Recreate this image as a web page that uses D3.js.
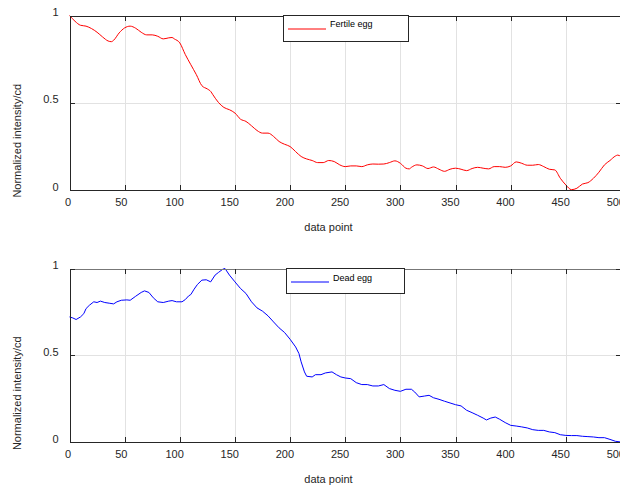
<!DOCTYPE html>
<html>
<head>
<meta charset="utf-8">
<script src="https://cdn.jsdelivr.net/npm/d3@7"></script>
<style>
  html, body { margin: 0; padding: 0; background: #fff; }
  svg { display: block; font-family: "Liberation Sans", Arial, sans-serif; }
</style>
</head>
<body>
<svg id="chart" width="620" height="490"></svg>
<script>
// ---- data ----
const xTicks = [0, 50, 100, 150, 200, 250, 300, 350, 400, 450, 500];
const yTicks = [0, 0.5, 1];
const yTickLabels = ["0", "0.5", "1"];
const xLabel = "data point";
const yLabel = "Normalized intensity/cd";
const fertileName = "Fertile egg";
const deadName = "Dead egg";

const fertileX = [0,5,10,15,20,25,30,35,38,40,45,50,55,60,65,70,75,80,85,90,93,95,100,105,110,115,120,125,128,130,135,140,145,150,155,160,165,170,175,180,185,190,195,200,205,210,215,220,225,230,235,240,245,250,255,260,265,270,275,280,285,290,295,300,305,308,310,315,320,325,330,335,340,345,350,355,360,365,370,375,380,385,390,395,400,405,410,415,420,425,430,435,440,445,450,455,460,465,470,475,480,485,490,495,497,500];
const fertileY = [1.0,0.967,0.944,0.939,0.925,0.904,0.877,0.854,0.85,0.858,0.90,0.929,0.939,0.927,0.904,0.889,0.889,0.881,0.866,0.872,0.874,0.866,0.843,0.776,0.718,0.661,0.598,0.579,0.565,0.546,0.502,0.473,0.46,0.441,0.406,0.393,0.368,0.341,0.326,0.326,0.307,0.278,0.262,0.249,0.22,0.192,0.178,0.169,0.157,0.157,0.169,0.163,0.144,0.134,0.138,0.138,0.134,0.144,0.149,0.148,0.149,0.157,0.167,0.153,0.125,0.121,0.13,0.144,0.138,0.123,0.132,0.119,0.107,0.119,0.125,0.119,0.111,0.123,0.13,0.125,0.121,0.134,0.134,0.13,0.138,0.161,0.153,0.142,0.142,0.146,0.134,0.119,0.115,0.067,0.029,0.002,0.01,0.034,0.042,0.067,0.102,0.144,0.169,0.195,0.2,0.192];

const deadX = [0,3,6,10,13,15,18,22,25,28,32,36,40,43,47,52,55,60,65,68,72,76,80,85,90,93,97,102,105,108,110,113,116,120,124,128,132,135,139,141,145,150,155,160,165,170,175,180,185,190,195,200,205,208,210,213,215,220,223,228,232,238,242,246,250,255,260,265,270,275,280,285,290,295,300,305,310,313,317,322,326,330,335,340,345,350,355,360,365,370,375,378,382,386,390,395,400,405,410,415,420,425,430,435,440,445,450,455,460,465,470,475,480,485,490,495,500];
const deadY = [0.721,0.715,0.706,0.721,0.74,0.769,0.788,0.808,0.804,0.812,0.804,0.80,0.796,0.808,0.817,0.819,0.817,0.84,0.862,0.871,0.862,0.831,0.808,0.804,0.812,0.815,0.808,0.808,0.821,0.842,0.85,0.881,0.908,0.933,0.935,0.923,0.962,0.977,0.996,1.0,0.962,0.923,0.885,0.856,0.808,0.773,0.754,0.727,0.692,0.658,0.631,0.592,0.548,0.51,0.462,0.404,0.379,0.375,0.388,0.388,0.398,0.404,0.388,0.375,0.369,0.365,0.342,0.331,0.331,0.323,0.323,0.331,0.308,0.298,0.292,0.304,0.304,0.288,0.26,0.265,0.269,0.255,0.246,0.235,0.225,0.215,0.208,0.183,0.169,0.154,0.138,0.127,0.138,0.144,0.131,0.112,0.096,0.092,0.087,0.081,0.071,0.067,0.067,0.058,0.054,0.042,0.038,0.037,0.037,0.033,0.031,0.029,0.025,0.025,0.015,0.004,0.0];

// ---- drawing ----
const svg = d3.select("#chart");
const AX = "#262626";
const GRID = "#e2e2e2";

function panel(cfg) {
  const x = d3.scaleLinear().domain([0, 500]).range([69.5, 621]);
  const y = d3.scaleLinear().domain([0, 1]).range([cfg.bottom, cfg.top]);
  const g = svg.append("g");

  // grid
  g.append("g").selectAll("line.gx").data(xTicks.slice(1)).join("line")
    .attr("x1", d => Math.round(x(d)) + 0.5).attr("x2", d => Math.round(x(d)) + 0.5)
    .attr("y1", cfg.top).attr("y2", cfg.bottom)
    .attr("stroke", GRID).attr("stroke-width", 1).attr("shape-rendering", "crispEdges");
  g.append("g").selectAll("line.gy").data([0.5]).join("line")
    .attr("x1", x(0)).attr("x2", x(500))
    .attr("y1", d => Math.round(y(d)) + 0.5).attr("y2", d => Math.round(y(d)) + 0.5)
    .attr("stroke", GRID).attr("stroke-width", 1).attr("shape-rendering", "crispEdges");

  // data line
  const line = d3.line().x((d, i) => x(cfg.xs[i])).y(d => y(d)).curve(cfg.curve);
  g.append("path").datum(cfg.ys).attr("d", line)
    .attr("fill", "none").attr("stroke", cfg.color).attr("stroke-width", 1);

  // axes
  const bottom = g.append("g").attr("transform", `translate(0,${cfg.bottom})`)
    .call(d3.axisBottom(x).tickValues(xTicks).tickSizeInner(-5).tickSizeOuter(0));
  bottom.selectAll("text")
    .attr("y", 16).attr("dy", null)
    .attr("dx", d => -1.9 * String(d).length)
    .attr("font-size", 11).attr("fill", AX);
  bottom.selectAll("line").attr("stroke", AX);
  bottom.select(".domain").attr("stroke", AX);

  const topAx = g.append("g").attr("transform", `translate(0,${cfg.top})`)
    .call(d3.axisTop(x).tickValues(xTicks).tickSizeInner(-5).tickSizeOuter(0).tickFormat(""));
  topAx.selectAll("line").attr("stroke", AX);
  topAx.select(".domain").attr("stroke", cfg.topColor);

  const left = g.append("g").attr("transform", `translate(${x(0)},0)`)
    .call(d3.axisLeft(y).tickValues(yTicks).tickSizeInner(-5).tickSizeOuter(0)
      .tickFormat((d, i) => yTickLabels[i]));
  left.selectAll("text")
    .attr("x", -11).attr("dy", null)
    .attr("font-size", 11).attr("fill", AX);
  left.selectAll("line").attr("stroke", AX);
  left.select(".domain").attr("stroke", AX);

  const right = g.append("g").attr("transform", `translate(${x(500)},0)`)
    .call(d3.axisRight(y).tickValues(yTicks).tickSizeInner(-5).tickSizeOuter(0).tickFormat(""));
  right.selectAll("line").attr("stroke", AX);
  right.select(".domain").attr("stroke", AX);

  svg.selectAll(".domain, .tick line").attr("shape-rendering", "crispEdges");

  // axis labels
  g.append("text").attr("x", 328.5).attr("y", cfg.bottom + 41)
    .attr("text-anchor", "middle").attr("font-size", 11).attr("fill", AX).text(xLabel);
  g.append("text")
    .attr("transform", `translate(21,${(cfg.top + cfg.bottom) / 2 + 38}) rotate(-90)`)
    .attr("text-anchor", "middle").attr("font-size", 11).attr("fill", AX).text(yLabel);

  // legend
  const L = cfg.legend;
  g.append("rect").attr("x", L.x + 0.5).attr("y", L.y + 0.5).attr("width", L.w).attr("height", L.h)
    .attr("fill", "#fff").attr("stroke", AX).attr("stroke-width", 1).attr("shape-rendering", "crispEdges");
  g.append("line").attr("x1", L.x + 5).attr("x2", L.x + 43)
    .attr("y1", L.y + L.lineDy).attr("y2", L.y + L.lineDy)
    .attr("stroke", cfg.color).attr("stroke-width", 1);
  g.append("text").attr("x", L.x + L.textDx).attr("y", L.y + L.textDy)
    .attr("font-size", 9).attr("fill", "#000").text(cfg.name);
}

panel({
  top: 15.5, bottom: 190, xs: fertileX, ys: fertileY, color: "#ff0000",
  curve: d3.curveMonotoneX, topColor: AX, name: fertileName,
  legend: { x: 283, y: 15, w: 125, h: 26, lineDy: 14, textDx: 47, textDy: 12 }
});
panel({
  top: 268.5, bottom: 442, xs: deadX, ys: deadY, color: "#0000ff",
  curve: d3.curveLinear, topColor: "#777", name: deadName,
  legend: { x: 286, y: 268, w: 118, h: 25, lineDy: 14, textDx: 47, textDy: 12.5 }
});
</script>
</body>
</html>
